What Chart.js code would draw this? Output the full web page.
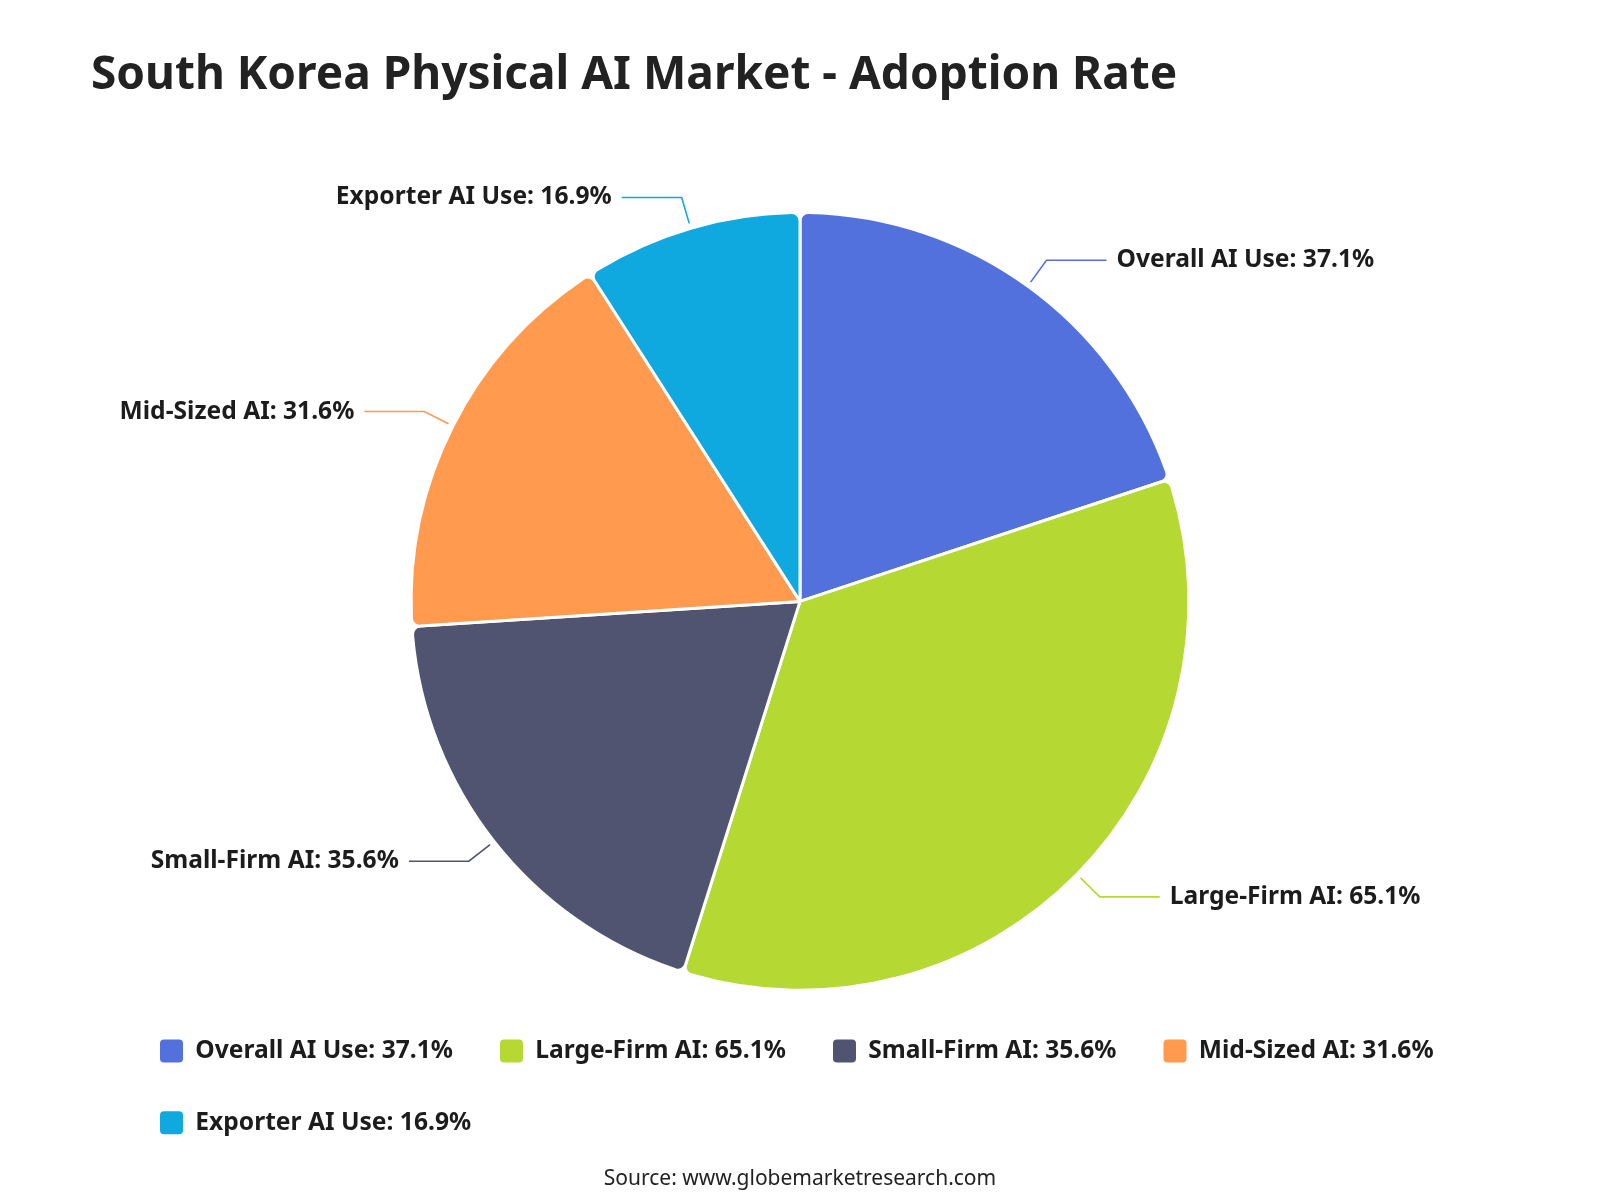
<!DOCTYPE html>
<html>
<head>
<meta charset="utf-8">
<title>South Korea Physical AI Market - Adoption Rate</title>
<script src="https://cdn.jsdelivr.net/npm/chart.js@4.4.1/dist/chart.umd.min.js"></script>
<style>
  body { margin: 0; background: #fff; font-family: "Noto Sans", sans-serif; }
  .wrap { position: relative; width: 1600px; height: 1200px; }
  h1 {
    position: absolute; left: 91px; top: 48px; margin: 0;
    font-size: 46px; line-height: 1; font-weight: 700; color: #222;
  }
  .source {
    position: absolute; left: 0; top: 1164px; width: 1600px;
    text-align: center; font-size: 21px; line-height: 26px; color: #222;
  }
  canvas { position: absolute; left: 0; top: 0; }
</style>
</head>
<body>
<div class="wrap">
  <canvas id="adoptionChart" width="1600" height="1200"></canvas>
  <h1>South Korea Physical AI Market - Adoption Rate</h1>
  <div class="source">Source: www.globemarketresearch.com</div>
</div>
<script>
const categories = ['Overall AI Use', 'Large-Firm AI', 'Small-Firm AI', 'Mid-Sized AI', 'Exporter AI Use'];
const adoptionRates = [37.1, 65.1, 35.6, 31.6, 16.9];
const sliceColors = ['#5271DD', '#B5D833', '#515470', '#FF9A4F', '#0FA9E0'];

const labelTexts = categories.map((c, i) => c + ': ' + adoptionRates[i].toFixed(1) + '%');
const textColor = '#1c1c1c';

// outside labels with a bent leader line
const leaderLabels = {
  id: 'leaderLabels',
  afterDatasetsDraw(chart) {
    const ctx = chart.ctx;
    const meta = chart.getDatasetMeta(0);
    ctx.save();
    ctx.font = 'bold 24.6px "Noto Sans"';
    ctx.textBaseline = 'middle';
    meta.data.forEach((arc, i) => {
      const p = arc.getProps(['x', 'y', 'startAngle', 'endAngle', 'outerRadius'], true);
      const mid = (p.startAngle + p.endAngle) / 2;
      const cos = Math.cos(mid), sin = Math.sin(mid);
      const x0 = p.x + cos * (p.outerRadius + 5);
      const y0 = p.y + sin * (p.outerRadius + 5);
      const x1 = p.x + cos * (p.outerRadius + 32);
      const y1 = p.y + sin * (p.outerRadius + 32);
      const right = cos >= 0;
      const x2 = x1 + (right ? 60 : -60);
      ctx.strokeStyle = sliceColors[i];
      ctx.lineWidth = 1.6;
      ctx.beginPath();
      ctx.moveTo(x0, y0);
      ctx.lineTo(x1, y1);
      ctx.lineTo(x2, y1);
      ctx.stroke();
      ctx.fillStyle = textColor;
      ctx.textAlign = right ? 'left' : 'right';
      ctx.fillText(labelTexts[i], x2 + (right ? 10 : -10), y1);
    });
    ctx.restore();
  }
};

const ctx = document.getElementById('adoptionChart').getContext('2d');
const pieChart = new Chart(ctx, {
  type: 'pie',
  data: {
    labels: labelTexts,
    datasets: [{
      data: adoptionRates,
      backgroundColor: sliceColors,
      borderColor: '#ffffff',
      borderWidth: 3,
      borderRadius: 8
    }]
  },
  options: {
    responsive: false,
    animation: false,
    layout: { padding: { top: 211, left: 113, right: 113, bottom: 55 } },
    plugins: {
      tooltip: { enabled: false },
      legend: {
        position: 'bottom',
        align: 'start',
        labels: {
          font: { family: 'Noto Sans', size: 24.6, weight: 'bold' },
          color: textColor,
          boxWidth: 23,
          boxHeight: 23,
          padding: 47,
          useBorderRadius: true,
          borderRadius: 4,
          generateLabels(chart) {
            const items = Chart.overrides.pie.plugins.legend.labels.generateLabels(chart);
            items.forEach(it => { it.lineWidth = 0; it.borderRadius = 4; });
            return items;
          }
        }
      }
    }
  },
  plugins: [leaderLabels]
});
</script>
</body>
</html>
